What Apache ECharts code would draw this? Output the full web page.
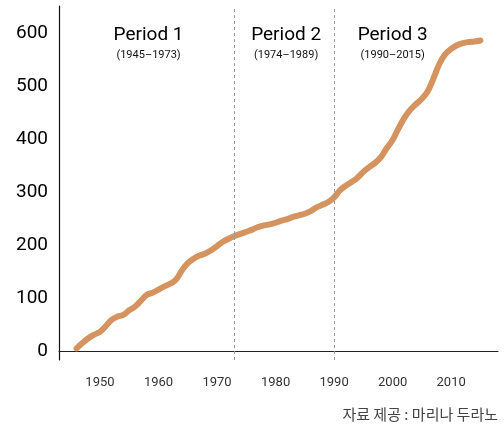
<!DOCTYPE html>
<html>
<head>
<meta charset="utf-8">
<script src="https://cdn.jsdelivr.net/npm/echarts@6/dist/echarts.min.js"></script>
<style>
  html, body { margin: 0; padding: 0; background: #fff; }
  #main { width: 504px; height: 428px; }
</style>
</head>
<body>
<div id="main"></div>
<script>
// years and values
var years = [];
for (var y = 1946; y <= 2015; y++) years.push(y);
var values = [
  5, 15, 24, 31, 36, 47, 59, 65, 68, 77,
  84, 95, 106, 110, 116, 122, 127, 135, 152, 166,
  174, 180, 184, 190, 198, 206, 212, 217, 221, 225,
  229, 234, 237, 239, 242, 246, 249, 253, 256, 259,
  264, 271, 276, 281, 290, 303, 312, 319, 327, 338,
  347, 355, 366, 383, 398, 420, 440, 455, 466, 476,
  490, 515, 542, 560, 570, 577, 581, 583, 584, 586
];
var xTicks = [1950, 1960, 1970, 1980, 1990, 2000, 2010];
var yTicks = [0, 100, 200, 300, 400, 500, 600];
var dividers = [1973, 1990];
var periods = [
  { name: 'Period 1', range: '(1945–1973)', x: 1958.3 },
  { name: 'Period 2', range: '(1974–1989)', x: 1981.8 },
  { name: 'Period 3', range: '(1990–2015)', x: 2000.0 }
];

var chart = echarts.init(document.getElementById('main'));
chart.setOption({
  animation: false,
  textStyle: { fontFamily: 'Roboto, "Noto Sans CJK KR", sans-serif' },
  grid: { left: 59, right: 6, top: 6, bottom: 68 },
  xAxis: {
    type: 'value',
    min: 1943,
    max: 2018,
    splitLine: { show: false },
    axisTick: { show: false },
    axisLine: { lineStyle: { color: '#222', width: 1 } },
    axisLabel: {
      customValues: xTicks,
      margin: 16,
      color: '#333',
      fontSize: 13,
      formatter: function (v) { return String(v); }
    }
  },
  yAxis: {
    type: 'value',
    min: -17,
    max: 651,
    splitLine: { show: false },
    axisTick: { show: false },
    axisLine: { show: true, lineStyle: { color: '#111', width: 1.2 } },
    axisLabel: {
      customValues: yTicks,
      margin: 11,
      color: '#000',
      fontSize: 19
    }
  },
  series: [
    {
      type: 'line',
      data: years.map(function (yr, i) { return [yr, values[i]]; }),
      smooth: 0.4,
      showSymbol: false,
      lineStyle: { color: '#D4935F', width: 6, cap: 'round', join: 'round' },
      markLine: {
        silent: true,
        symbol: 'none',
        label: { show: false },
        lineStyle: { color: '#999', type: [3, 3], width: 1 },
        data: dividers.map(function (d) { return { xAxis: d }; })
      },
      markPoint: {
        silent: true,
        symbol: 'circle',
        symbolSize: 0,
        label: {
          show: true,
          position: 'inside',
          color: '#000',
          rich: {
            t: { fontSize: 19, color: '#000', lineHeight: 24 },
            s: { fontSize: 11, color: '#111', lineHeight: 16 }
          }
        },
        data: periods.map(function (p) {
          return {
            coord: [p.x, 580],
            label: { formatter: '{t|' + p.name + '}\n{s|' + p.range + '}' }
          };
        })
      }
    }
  ],
  graphic: [
    {
      type: 'text',
      right: 6,
      top: 407,
      style: {
        text: '자료 제공 : 마리나 두라노',
        fill: '#444',
        font: '15px "Noto Sans CJK KR", sans-serif'
      }
    }
  ]
});
</script>
</body>
</html>
